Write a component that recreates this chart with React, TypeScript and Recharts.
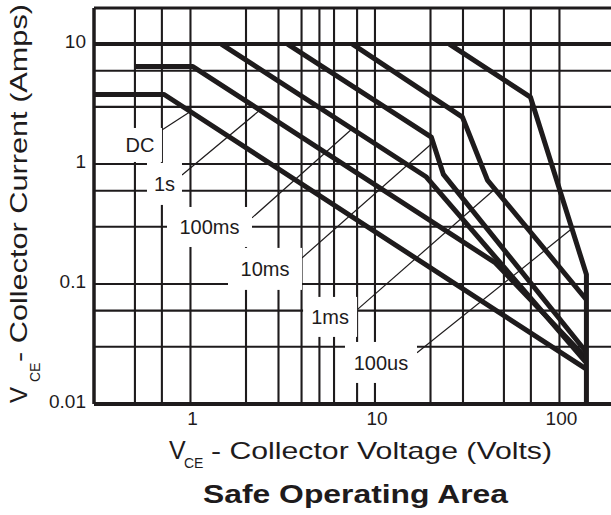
import React from 'react';
import { LineChart, Line, XAxis, YAxis, CartesianGrid, ReferenceLine, ReferenceDot } from 'recharts';

// ---- data ----
const xTicks = [1, 10, 100];
const yTicks = [0.01, 0.1, 1, 10];
const xGridValues = [0.4, 0.5, 0.6, 0.7, 0.8, 0.9, 1, 2, 3, 4, 5, 6, 7, 8, 9, 10, 20, 30, 40, 50, 60, 70, 80, 90, 100];
const yGridValues = [0.02, 0.03, 0.04, 0.05, 0.06, 0.07, 0.08, 0.09, 0.1, 0.2, 0.3, 0.4, 0.5, 0.6, 0.7, 0.8, 0.9, 1, 2, 3, 4, 5, 6, 7, 8, 9, 10];

const imaxCurve = [{ v: 0.3, a: 10 }, { v: 200, a: 10 }];
const dcCurve = [{ v: 0.3, a: 3.8 }, { v: 0.72, a: 3.8 }, { v: 140, a: 0.0195 }];
const s1Curve = [{ v: 0.5, a: 6.5 }, { v: 1.03, a: 6.5 }, { v: 45, a: 0.15 }, { v: 140, a: 0.024 }];
const ms100Curve = [{ v: 1.47, a: 10 }, { v: 19, a: 0.78 }, { v: 140, a: 0.022 }];
const ms10Curve = [{ v: 3.36, a: 10 }, { v: 20.2, a: 1.68 }, { v: 23.5, a: 0.82 }, { v: 140, a: 0.027 }];
const ms1Curve = [{ v: 7.55, a: 10 }, { v: 29.8, a: 2.46 }, { v: 40.7, a: 0.736 }, { v: 140, a: 0.074 }];
const us100Curve = [{ v: 25.3, a: 10 }, { v: 69.6, a: 3.62 }, { v: 140, a: 0.12 }, { v: 140, a: 0.01 }];

const labelNames = ['DC', '1s', '100ms', '10ms', '1ms', '100us'];
const labelV = [0.5325, 0.723, 1.268, 2.535, 5.71, 10.78];
const labelA = [1.443, 0.683, 0.299, 0.1337, 0.0532, 0.0222];

const leaderFromV = [0.7, 0.9, 2.155, 4.02, 7.99, 16.9];
const leaderFromA = [1.92, 0.811, 0.356, 0.165, 0.0609, 0.0267];
const leaderToV = [1.0, 2.38, 7.5, 20.7, 44.7, 117];
const leaderToA = [2.74, 2.82, 1.96, 1.52, 0.62, 0.29];

// ---- styles ----
const INK = '#1e1b1c';
const FONT = '"Liberation Sans", Arial, Helvetica, sans-serif';
const labelBoxW = [44, 35, 85, 74, 54, 72];
const labelBoxH = [34, 42, 40, 42, 40, 41];

const curves = [imaxCurve, dcCurve, s1Curve, ms100Curve, ms10Curve, ms1Curve, us100Curve];

const YTick = (props: any) => {
  const { x, y, payload } = props;
  return (
    <text x={x} y={y - 3} dy="0.355em" textAnchor="end" fontSize={19} fill={INK} fontFamily={FONT}>
      {String(payload.value)}
    </text>
  );
};

const XTick = (props: any) => {
  const { x, y, payload } = props;
  return (
    <text x={x + 2} y={y} dy="0.71em" textAnchor="middle" fontSize={19} fill={INK} fontFamily={FONT}>
      {String(payload.value)}
    </text>
  );
};

const makeLabelShape = (i: number) => (props: any) => {
  const { cx, cy } = props;
  const w = labelBoxW[i];
  const h = labelBoxH[i];
  return (
    <g>
      <rect x={cx - w / 2} y={cy - h / 2} width={w} height={h} fill="#ffffff" stroke="none" />
      <text x={cx} y={cy} dy="0.355em" textAnchor="middle" fontSize={20} fill={INK} fontFamily={FONT}>
        {labelNames[i]}
      </text>
    </g>
  );
};

export default function App() {
  return (
    <div style={{ position: 'fixed', left: 0, top: 0, width: 611, height: 515, overflow: 'hidden', background: '#fff' }}>
      <LineChart width={615} height={515} margin={{ top: 8, right: 0, bottom: 0, left: 0 }}>
        <CartesianGrid
          horizontalValues={yGridValues}
          verticalValues={xGridValues}
          stroke={INK}
          strokeWidth={2.1}
          strokeDasharray=""
        />
        <XAxis
          dataKey="v"
          type="number"
          scale="log"
          domain={[0.3, 200]}
          allowDataOverflow
          ticks={xTicks}
          tick={<XTick />}
          tickLine={false}
          tickSize={0}
          tickMargin={8}
          height={111}
          axisLine={{ stroke: INK, strokeWidth: 4 }}
        />
        <YAxis
          dataKey="a"
          type="number"
          scale="log"
          domain={[0.01, 20]}
          allowDataOverflow
          ticks={yTicks}
          tick={<YTick />}
          tickLine={false}
          tickSize={0}
          tickMargin={8}
          width={94}
          axisLine={{ stroke: INK, strokeWidth: 3.5 }}
        />
        <ReferenceLine y={20} stroke={INK} strokeWidth={3} />
        {curves.map((c, i) => (
          <Line
            key={i}
            data={c}
            dataKey="a"
            stroke={INK}
            strokeWidth={i === 0 ? 4 : 5}
            strokeLinejoin="round"
            dot={false}
            activeDot={false}
            isAnimationActive={false}
            type="linear"
          />
        ))}
        {labelNames.map((n, i) => (
          <ReferenceDot key={'lb' + n} x={labelV[i]} y={labelA[i]} r={1} shape={makeLabelShape(i)} />
        ))}
        {labelNames.map((n, i) => (
          <ReferenceLine
            key={'ld' + n}
            segment={[
              { x: leaderFromV[i], y: leaderFromA[i] },
              { x: leaderToV[i], y: leaderToA[i] },
            ]}
            stroke={INK}
            strokeWidth={1.2}
          />
        ))}
      </LineChart>
      <svg width={611} height={515} style={{ position: 'absolute', left: 0, top: 0, pointerEvents: 'none' }}>
        <g fill={INK} fontFamily={FONT}>
          <text transform="translate(27,403) rotate(-90)" fontSize={24}>V</text>
          <text transform="translate(40,382) rotate(-90)" fontSize={14}>CE</text>
          <text transform="translate(27,362) rotate(-90)" fontSize={24} textLength={358} lengthAdjust="spacingAndGlyphs">
            - Collector Current (Amps)
          </text>
          <text x={169} y={459} fontSize={25}>V</text>
          <text x={184} y={468} fontSize={14}>CE</text>
          <text x={211} y={459} fontSize={24} textLength={341} lengthAdjust="spacingAndGlyphs">
            - Collector Voltage (Volts)
          </text>
          <text x={203} y={503} fontSize={25} fontWeight="bold" textLength={305} lengthAdjust="spacingAndGlyphs">
            Safe Operating Area
          </text>
        </g>
      </svg>
    </div>
  );
}
